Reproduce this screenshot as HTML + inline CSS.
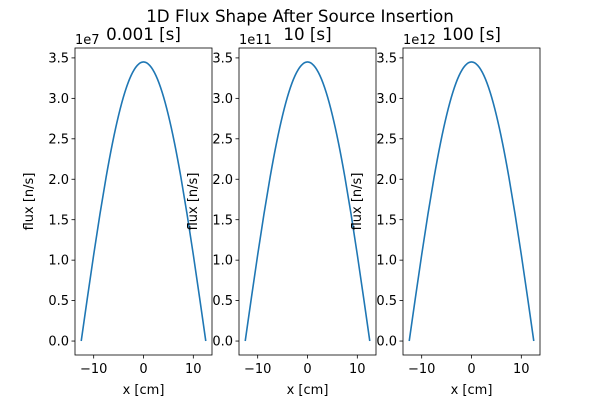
<!DOCTYPE html>
<html><head><meta charset="utf-8"><style>
body{margin:0;background:#fff}
svg text{font-family:"DejaVu Sans","Liberation Sans",sans-serif;fill:#000}
</style></head><body>
<svg id="c" width="600" height="400" xmlns="http://www.w3.org/2000/svg">
<text x="300" y="22" font-size="16.7" text-anchor="middle">1D Flux Shape After Source Insertion</text>
</svg>
<script>
const titles = ["0.001 [s]", "10 [s]", "100 [s]"];
const exponents = ["1e7", "1e11", "1e12"];
const xs = [-12.5,-11.25,-10,-8.75,-7.5,-6.25,-5,-3.75,-2.5,-1.25,0,1.25,2.5,3.75,5,6.25,7.5,8.75,10,11.25,12.5];
const flux = [0,0.54,1.066,1.566,2.028,2.44,2.791,3.074,3.281,3.407,3.45,3.407,3.281,3.074,2.791,2.44,2.028,1.566,1.066,0.54,0];
const yTicks = [0,0.5,1,1.5,2,2.5,3,3.5];
const xTicks = [-10,0,10];
const svg = document.getElementById('c');
const NS = "http://www.w3.org/2000/svg";
function mk(tag, attrs, parent){const e=document.createElementNS(NS,tag);for(const k in attrs)e.setAttribute(k,attrs[k]);(parent||svg).appendChild(e);return e;}
function smooth(pts){let d='M'+pts[0][0]+','+pts[0][1];
  for(let i=0;i<pts.length-1;i++){const p0=pts[Math.max(0,i-1)],p1=pts[i],p2=pts[i+1],p3=pts[Math.min(pts.length-1,i+2)];
    const c1=[p1[0]+(p2[0]-p0[0])/6,p1[1]+(p2[1]-p0[1])/6],c2=[p2[0]-(p3[0]-p1[0])/6,p2[1]-(p3[1]-p1[1])/6];
    d+=' C'+c1[0]+','+c1[1]+' '+c2[0]+','+c2[1]+' '+p2[0]+','+p2[1];}
  return d;}
const lefts=[75,239,403], W=137, axTop=48, axBottom=355;
const xmin=-13.75,xmax=13.75,ymin=-0.1725,ymax=3.6225;
const FS=13;
titles.forEach((t,i)=>{
  const L=lefts[i];
  const g=mk('g',{});
  
  
  const sx=v=>L+(v-xmin)/(xmax-xmin)*W;
  const sy=v=>axBottom-(v-ymin)/(ymax-ymin)*(axBottom-axTop);
  const p=mk('path',{d:smooth(xs.map((x,j)=>[sx(x),sy(flux[j])])),fill:'none',stroke:'#1f77b4','stroke-width':1.6},g);
  
  
  const r=mk('rect',{x:L,y:axTop,width:W,height:axBottom-axTop,fill:'none',stroke:'#000','stroke-width':0.8},g);
  
  
  yTicks.forEach(v=>{const y=sy(v);mk('line',{x1:L-3.5,x2:L,y1:y,y2:y,stroke:'#000','stroke-width':0.8},g);
    const tx=mk('text',{x:L-6,y:y+4.6,'font-size':FS,'text-anchor':'end'},g);tx.textContent=v.toFixed(1);
    
    });
  xTicks.forEach(v=>{const x=sx(v);mk('line',{x1:x,x2:x,y1:axBottom,y2:axBottom+3.5,stroke:'#000','stroke-width':0.8},g);
    const tx=mk('text',{x:x,y:axBottom+18,'font-size':FS,'text-anchor':'middle'},g);tx.textContent=v<0?'\u2212'+(-v):String(v);
    
    });
  const ex=mk('text',{x:L,y:44,'font-size':FS},g);ex.textContent=exponents[i];
  
  
  const ti=mk('text',{x:L+W/2,y:40,'font-size':16.7,'text-anchor':'middle'},g);ti.textContent=t;
  
  
  const xl=mk('text',{x:L+W/2,y:394,'font-size':FS,'text-anchor':'middle'},g);xl.textContent='x [cm]';
  
  
  const yl=mk('text',{x:0,y:0,'font-size':FS,'text-anchor':'middle',transform:`translate(${L-42},${(axTop+axBottom)/2}) rotate(-90)`},g);yl.textContent='flux [n/s]';
  
  
});
</script>
</body></html>
